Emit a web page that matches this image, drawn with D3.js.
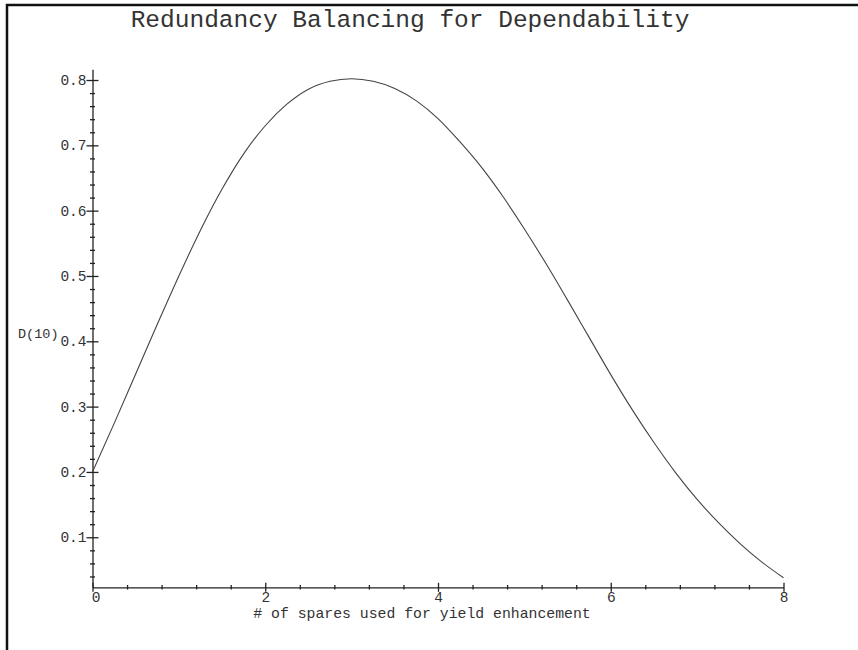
<!DOCTYPE html>
<html>
<head>
<meta charset="utf-8">
<script src="https://cdn.jsdelivr.net/npm/d3@7"></script>
<style>
  body { margin: 0; background: #fff; }
  text { font-family: "Liberation Mono", "DejaVu Sans Mono", monospace; fill: #333; }
</style>
</head>
<body>
<div id="chart"></div>
<script>
// values
var spares = [0, 0.25, 0.5, 0.75, 1, 1.25, 1.5, 1.75, 2, 2.25, 2.5, 2.75, 3, 3.25, 3.5, 3.75,
  4, 4.25, 4.5, 4.75, 5, 5.25, 5.5, 5.75, 6, 6.25, 6.5, 6.75, 7, 7.25, 7.5, 7.75, 8];
var dependability = [0.200, 0.274, 0.350, 0.426, 0.500, 0.570, 0.633, 0.687, 0.730, 0.763,
  0.786, 0.798, 0.802, 0.798, 0.787, 0.768, 0.741, 0.706, 0.667, 0.622, 0.572, 0.519,
  0.463, 0.406, 0.349, 0.295, 0.245, 0.199, 0.158, 0.122, 0.090, 0.062, 0.038];
var xMajor = [0, 2, 4, 6, 8];
var yMajor = [0.1, 0.2, 0.3, 0.4, 0.5, 0.6, 0.7, 0.8];
var title = "Redundancy Balancing for Dependability";
var xTitle = "# of spares used for yield enhancement";
var yTitle = "D(10)";

var width = 858, height = 650;

var svg = d3.select("#chart").append("svg")
  .attr("width", width)
  .attr("height", height);

// frame
svg.append("rect")
  .attr("x", 7).attr("y", 5)
  .attr("width", 900).attr("height", 700)
  .attr("fill", "none")
  .attr("stroke", "#111")
  .attr("stroke-width", 2.5);

var x = d3.scaleLinear().domain([0, 8]).range([92.5, 783.5]);
var y = d3.scaleLinear().domain([0.0234, 0.8164]).range([587.3, 69.3]);

var xMinor = d3.range(0, 8.001, 0.4).filter((d) => Math.abs(d / 2 - Math.round(d / 2)) > 1e-6);
var yMinor = d3.range(0.04, 0.801, 0.02).filter((d) => Math.abs(d * 10 - Math.round(d * 10)) > 1e-6);

// y axis
var gy = svg.append("g").attr("transform", `translate(${x(0)},0)`);
gy.call(d3.axisLeft(y).tickValues(yMajor).tickSize(6).tickSizeOuter(0).tickFormat(d3.format(".1f")));
gy.selectAll(".tick line").attr("x1", 6);
gy.append("g").call(d3.axisLeft(y).tickValues(yMinor).tickSize(2.5).tickFormat(""))
  .call((g) => g.select(".domain").remove())
  .selectAll(".tick line").attr("x1", 2.5);
gy.selectAll(".tick text").attr("x", -6).attr("dy", "0.32em")
  .style("font-size", "14.5px");
gy.selectAll("path.domain, line").attr("stroke", "#222").attr("stroke-width", 1.3);

// x axis
var gx = svg.append("g").attr("transform", `translate(0,${y(0.0234)})`);
gx.call(d3.axisBottom(x).tickValues(xMajor).tickSize(4.5).tickSizeOuter(0).tickFormat((d) => d));
gx.selectAll(".tick line").attr("y1", -4.5);
gx.append("g").call(d3.axisBottom(x).tickValues(xMinor).tickSize(2.3).tickFormat(""))
  .call((g) => g.select(".domain").remove())
  .selectAll(".tick line").attr("y1", -2.3);
gx.selectAll(".tick text").attr("y", 4).attr("dy", "0.71em")
  .style("font-size", "14.5px");
gx.selectAll(".tick text").filter((d) => d === 0).attr("dx", 3);
gx.selectAll("path.domain, line").attr("stroke", "#222").attr("stroke-width", 1.3);

// curve
var line = d3.line()
  .x((d, i) => x(spares[i]))
  .y((d) => y(d))
  .curve(d3.curveMonotoneX);

svg.append("path")
  .attr("d", line(dependability))
  .attr("fill", "none")
  .attr("stroke", "#444")
  .attr("stroke-width", 1.1);

// titles
svg.append("text")
  .attr("x", 410).attr("y", 27)
  .attr("text-anchor", "middle")
  .style("font-size", "24.5px")
  .text(title);

svg.append("text")
  .attr("x", 422).attr("y", 618)
  .attr("text-anchor", "middle")
  .style("font-size", "14.8px")
  .text(xTitle);

svg.append("text")
  .attr("x", 18).attr("y", 338)
  .style("font-size", "13.5px")
  .text(yTitle);
</script>
</body>
</html>
